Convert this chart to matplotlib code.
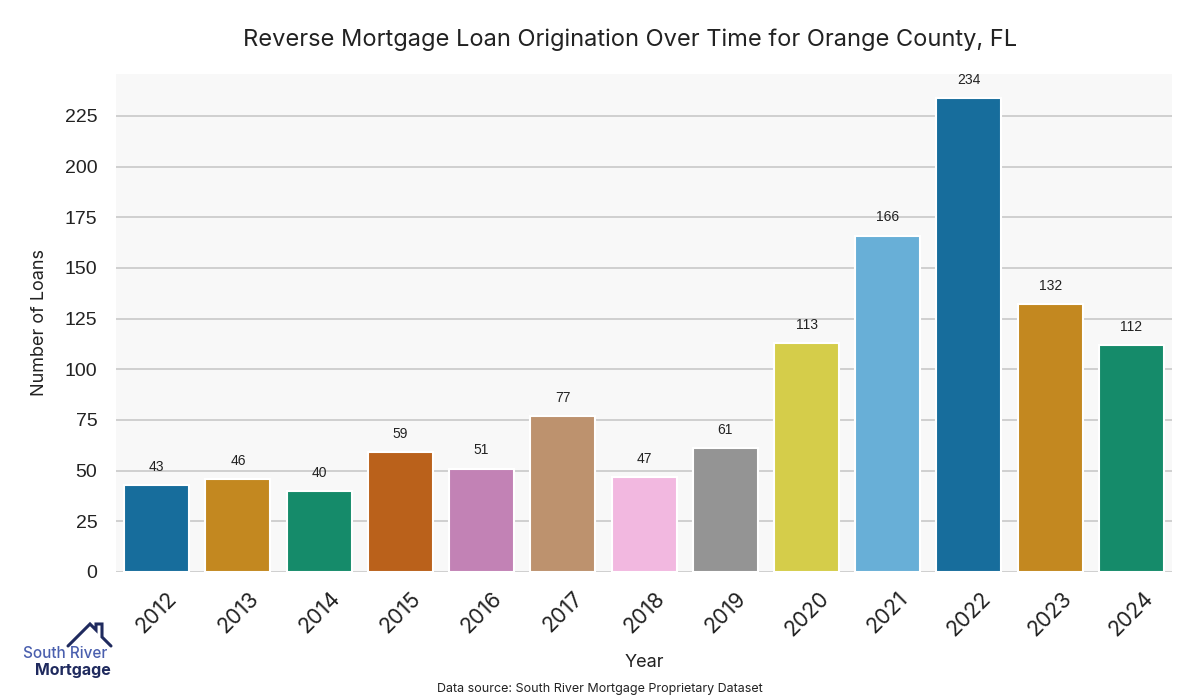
import matplotlib
matplotlib.use("Agg")
import matplotlib.pyplot as plt
import seaborn as sns
from matplotlib.lines import Line2D

years = ["2012", "2013", "2014", "2015", "2016", "2017", "2018",
         "2019", "2020", "2021", "2022", "2023", "2024"]
loans = [43, 46, 40, 59, 51, 77, 47, 61, 113, 166, 234, 132, 112]

sns.set_style("whitegrid")
fig = plt.figure(figsize=(12, 7), dpi=100)
ax = fig.add_axes([0.0967, 0.1829, 0.88, 0.7114])
ax.set_facecolor("#f8f8f8")

palette = sns.color_palette("colorblind", 10)
colors = [palette[i % 10] for i in range(len(years))]
sns.barplot(x=years, y=loans, hue=years, palette=colors, legend=False,
            ax=ax, edgecolor="white", linewidth=1.5, saturation=0.75)

for i, v in enumerate(loans):
    ax.annotate(str(v), (i, v), xytext=(0, 8), textcoords="offset points",
                ha="center", va="bottom", fontsize=10, color="#222222",
                family="Liberation Sans")

ax.set_ylim(0, max(loans) * 1.05)
ax.set_xlim(-0.5, len(years) - 0.5)
ax.set_yticks(range(0, 226, 25))
ax.grid(axis="y", color="#cccccc", linewidth=1.3)
ax.grid(axis="x", visible=False)
for s in ax.spines.values():
    s.set_visible(False)
ax.tick_params(axis="y", labelsize=14, colors="#222222", pad=10)
ax.tick_params(axis="x", labelsize=15.5, colors="#222222", rotation=45, pad=8)
for lab in ax.get_yticklabels():
    lab.set_family("Liberation Sans")
for lab in ax.get_xticklabels():
    lab.set_family("Inter")
ax.set_xlabel("Year", fontsize=13, family="Inter", color="#222222", labelpad=10)
ax.set_ylabel("Number of Loans", fontsize=13, family="Inter", color="#222222", labelpad=12)

fig.text(0.525, 0.943, "Reverse Mortgage Loan Origination Over Time for Orange County, FL",
         ha="center", va="center", fontsize=17, family="Inter", color="#222222")
fig.text(0.5, 0.016, "Data source: South River Mortgage Proprietary Dataset",
         ha="center", va="center", fontsize=9, family="Inter", color="#222222")

# logo
fig.text(23/1200, 1-653/700, "South River", fontsize=11, family="Inter", weight="medium",
         color="#4a5fae", ha="left", va="center")
fig.text(111/1200, 1-670/700, "Mortgage", fontsize=11.5, family="Inter", weight="bold",
         color="#1f2a5e", ha="right", va="center")
px = [68, 90, 96, 96, 102, 102, 111]
py = [646, 624, 630, 624, 624, 637, 646]
roof = Line2D([x/1200 for x in px], [1-y/700 for y in py],
              transform=fig.transFigure, color="#1f2a5e", linewidth=2.2,
              solid_joinstyle="miter")
fig.add_artist(roof)

fig.savefig("out.png", dpi=100)
